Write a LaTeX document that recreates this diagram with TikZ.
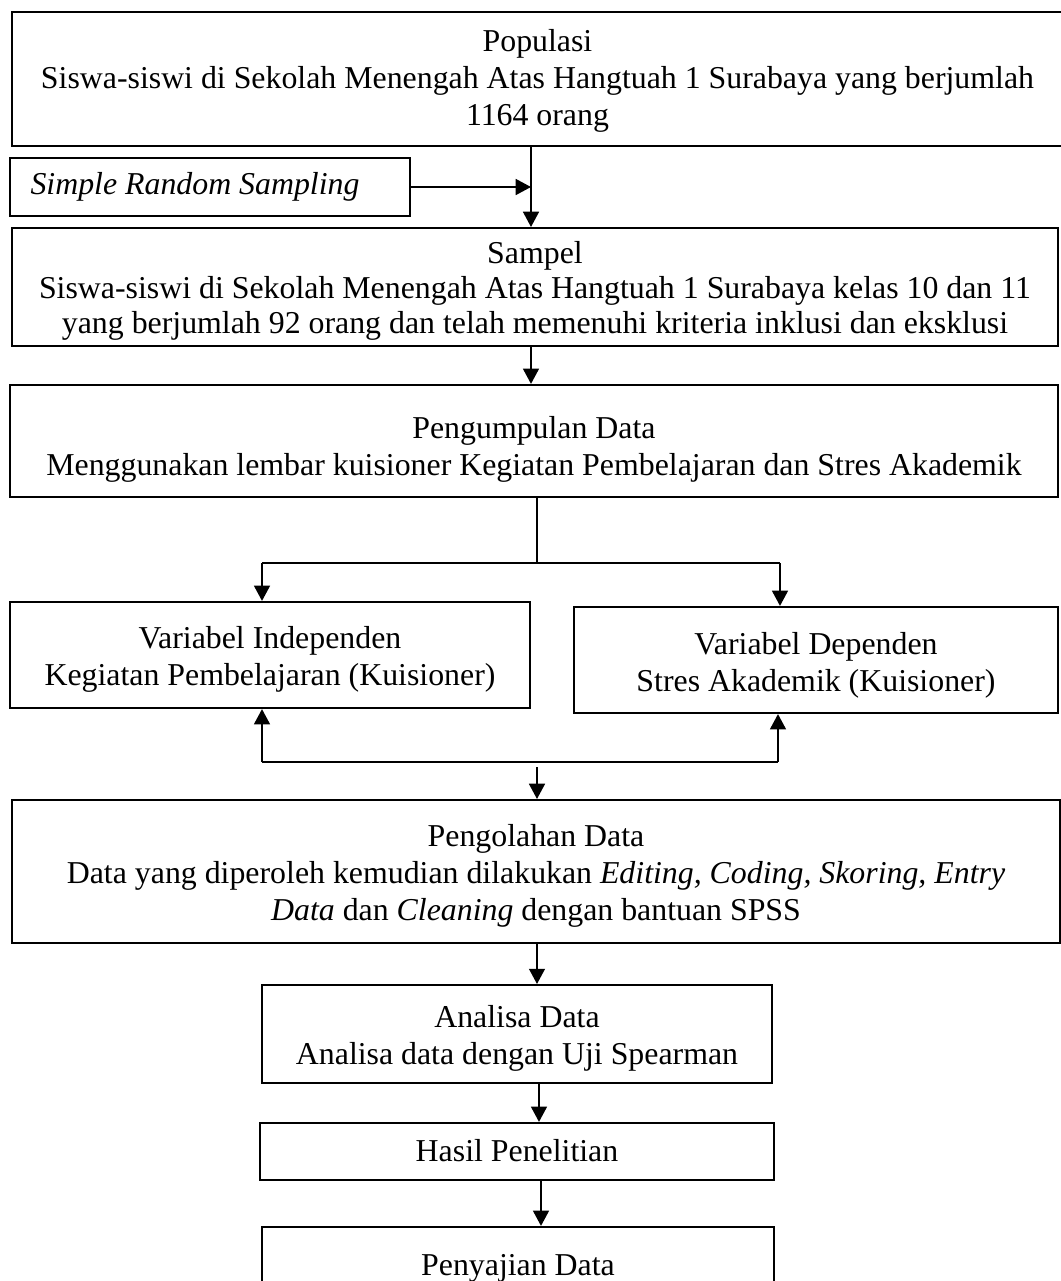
\documentclass[tikz,border=0pt]{standalone}
\usepackage{fontspec}
\setmainfont{Liberation Serif}
\usetikzlibrary{arrows.meta}
\begin{document}
\begin{tikzpicture}[x=0.38pt,y=-0.38pt,
  box/.style={draw,line width=0.8pt,inner sep=0pt},
  txt/.style={inner sep=0pt,align=center,font=\fontsize{12.1}{14.1}\selectfont},
  link/.style={line width=0.8pt},
  arr/.style={line width=0.8pt,-{Triangle[width=6pt,length=5.8pt]}}]
\useasboundingbox (0,0) rectangle (1061,1281);
\clip (0,0) rectangle (1061,1281);

% frames
\node[box,minimum width=399.4pt,minimum height=50.9pt] (pop) at (537.5,79) {};
\node[box,minimum width=152pt,minimum height=22pt] (srs) at (210,187) {};
\node[box,minimum width=397.5pt,minimum height=44.8pt] (smp) at (535,287) {};
\node[box,minimum width=398.2pt,minimum height=42.6pt] (kum) at (534,441) {};
\node[box,minimum width=197.6pt,minimum height=40.3pt] (vi) at (270,655) {};
\node[box,minimum width=183.9pt,minimum height=40.3pt] (vd) at (816,660) {};
\node[box,minimum width=398.2pt,minimum height=54.3pt] (olah) at (536,871.5) {};
\node[box,minimum width=193.8pt,minimum height=37.2pt] (ana) at (517,1034) {};
\node[box,minimum width=195.3pt,minimum height=21.7pt] (has) at (517,1151.5) {};
\node[box,minimum width=194.6pt,minimum height=28.9pt] (saji) at (518,1265) {};

% texts
\node[txt] (pop-t) at (537.5,81)
  {Populasi\\Siswa-siswi di Sekolah Menengah Atas Hangtuah 1 Surabaya yang berjumlah\\1164 orang};
\node[txt,anchor=west,align=left] (srs-t) at (30,187) {\itshape Simple Random Sampling};
\node[txt,font=\fontsize{12.1}{13.4}\selectfont] (smp-t) at (535,291)
  {Sampel\\Siswa-siswi di Sekolah Menengah Atas Hangtuah 1 Surabaya kelas 10 dan 11\\yang berjumlah 92 orang dan telah memenuhi kriteria inklusi dan eksklusi};
\node[txt] (kum-t) at (534,449)
  {Pengumpulan Data\\Menggunakan lembar kuisioner Kegiatan Pembelajaran dan Stres Akademik};
\node[txt] (vi-t) at (270,659)
  {Variabel Independen\\Kegiatan Pembelajaran (Kuisioner)};
\node[txt] (vd-t) at (816,665)
  {Variabel Dependen\\Stres Akademik (Kuisioner)};
\node[txt] (olah-t) at (536,875.5)
  {Pengolahan Data\\Data yang diperoleh kemudian dilakukan \textit{Editing, Coding, Skoring, Entry}\\\textit{Data} dan \textit{Cleaning} dengan bantuan SPSS};
\node[txt] (ana-t) at (517,1038)
  {Analisa Data\\Analisa data dengan Uji Spearman};
\node[txt] (has-t) at (517,1150.5) {Hasil Penelitian};
\node[txt] (saji-t) at (518,1268) {Penyajian Data};

% connector guide points
\coordinate (c1) at (531,0);
\coordinate (split) at (537,563);
\coordinate (sl) at (262,563);
\coordinate (sr) at (780,563);
\coordinate (jl) at (262,762);
\coordinate (jr) at (778,762);
\coordinate (mid) at (537,767);
\coordinate (c3) at (539,0);
\coordinate (c4) at (541,0);

% connectors
\draw[arr] (pop.south -| c1) -- (smp.north -| c1);
\draw[arr] (srs.east) -- (srs.east -| c1);
\draw[arr] (smp.south -| c1) -- (kum.north -| c1);
\draw[link] (kum.south -| split) -- (split);
\draw[link] (sl) -- (sr);
\draw[arr] (sl) -- (vi.north -| sl);
\draw[arr] (sr) -- (vd.north -| sr);
\draw[link] (jl) -- (jr);
\draw[arr] (jl) -- (vi.south -| jl);
\draw[arr] (jr) -- (vd.south -| jr);
\draw[arr] (mid) -- (olah.north -| mid);
\draw[arr] (olah.south -| mid) -- (ana.north -| mid);
\draw[arr] (ana.south -| c3) -- (has.north -| c3);
\draw[arr] (has.south -| c4) -- (saji.north -| c4);
\end{tikzpicture}
\end{document}
